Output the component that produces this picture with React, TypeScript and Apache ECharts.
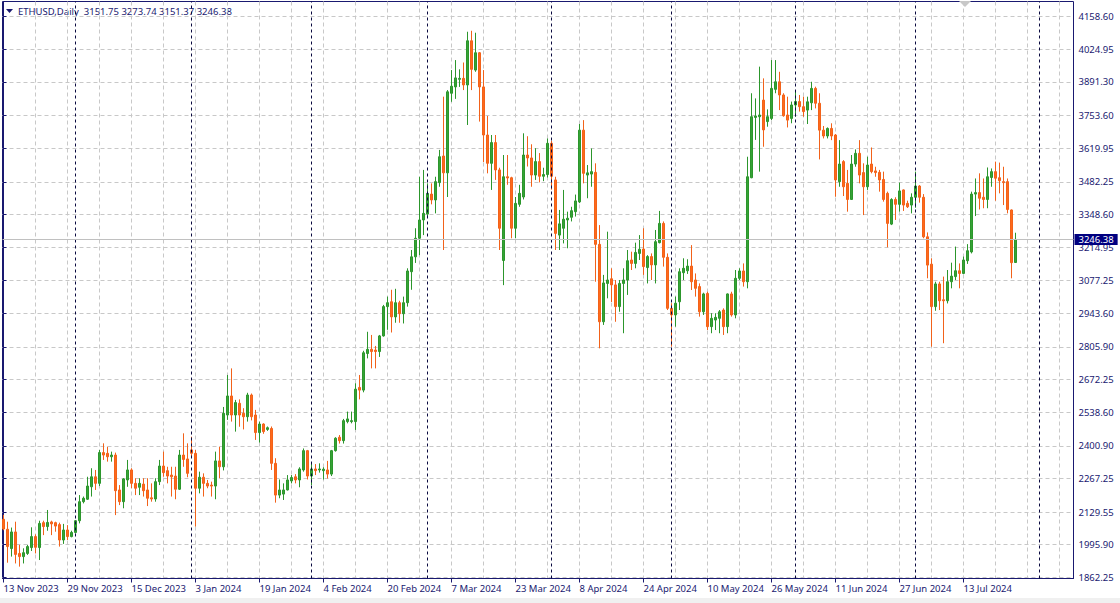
import React, { useEffect, useRef } from "react";
import * as echarts from "echarts";

// ---- data: daily bars [open, high, low, close] ----
const NOV_2023 = [
  [2100, 2118, 2055, 2060], [2059, 2090, 1922, 1988], [1980, 2066, 1947, 2048], [2048, 2090, 1919, 1956],
  [1960, 1995, 1906, 1947], [1947, 1981, 1919, 1963], [1960, 1995, 1954, 1988], [1984, 2067, 1970, 2029],
  [2029, 2038, 1960, 1985], [1984, 2094, 1933, 2083], [2086, 2094, 2035, 2070], [2070, 2138, 2053, 2087],
  [2089, 2094, 2035, 2081], [2086, 2090, 2049, 2072], [2078, 2086, 1988, 2015], [2015, 2081, 1999, 2056],
  [2056, 2076, 2015, 2029], [2029, 2053, 2026, 2046],
];
const DEC_2023 = [
  [2046, 2097, 2042, 2094], [2094, 2199, 2083, 2172], [2172, 2193, 2165, 2186], [2182, 2274, 2179, 2236],
  [2233, 2309, 2193, 2274], [2274, 2302, 2220, 2247], [2247, 2384, 2236, 2373], [2373, 2411, 2343, 2363],
  [2370, 2397, 2336, 2356], [2356, 2377, 2336, 2363], [2363, 2373, 2117, 2217], [2220, 2240, 2158, 2172],
  [2172, 2268, 2145, 2265], [2261, 2343, 2233, 2302], [2302, 2309, 2227, 2247], [2247, 2268, 2199, 2227],
  [2231, 2268, 2199, 2247], [2244, 2268, 2193, 2217], [2220, 2268, 2154, 2186], [2188, 2247, 2172, 2183],
  [2183, 2268, 2172, 2254], [2254, 2343, 2240, 2318], [2318, 2377, 2274, 2291], [2299, 2315, 2247, 2277],
  [2281, 2315, 2193, 2274], [2277, 2315, 2182, 2223], [2223, 2384, 2220, 2363], [2363, 2452, 2315, 2345],
  [2347, 2411, 2272, 2288],
];
const JAN_2024 = [
  [2384, 2438, 2356, 2370], [2370, 2384, 2070, 2227], [2227, 2295, 2206, 2272], [2272, 2288, 2193, 2247],
  [2247, 2261, 2227, 2236], [2240, 2254, 2193, 2236], [2236, 2377, 2182, 2339], [2339, 2397, 2268, 2315],
  [2315, 2560, 2300, 2534], [2527, 2691, 2507, 2605], [2605, 2718, 2500, 2527], [2527, 2589, 2459, 2578],
  [2575, 2591, 2479, 2527], [2534, 2555, 2468, 2520], [2520, 2618, 2500, 2609], [2609, 2615, 2505, 2520],
  [2527, 2548, 2425, 2455], [2455, 2500, 2414, 2490], [2490, 2493, 2450, 2459], [2468, 2480, 2462, 2475],
  [2472, 2480, 2302, 2329], [2329, 2350, 2168, 2199], [2199, 2263, 2186, 2220], [2203, 2247, 2179, 2220],
  [2220, 2281, 2218, 2261], [2257, 2281, 2247, 2271], [2274, 2285, 2247, 2261], [2261, 2313, 2231, 2306],
  [2302, 2390, 2295, 2381], [2381, 2384, 2263, 2277],
];
const FEB_2024 = [
  [2277, 2329, 2240, 2306], [2306, 2326, 2281, 2299], [2302, 2329, 2291, 2306], [2299, 2313, 2263, 2305],
  [2302, 2339, 2267, 2285], [2285, 2384, 2277, 2381], [2381, 2436, 2377, 2432], [2436, 2445, 2410, 2422],
  [2422, 2511, 2410, 2504], [2500, 2541, 2493, 2511], [2500, 2541, 2493, 2504], [2500, 2657, 2466, 2633],
  [2640, 2691, 2591, 2629], [2629, 2790, 2620, 2782], [2779, 2868, 2759, 2796], [2796, 2855, 2718, 2787],
  [2793, 2810, 2718, 2787], [2787, 2855, 2765, 2851], [2851, 2978, 2848, 2971], [2971, 3012, 2876, 2987],
  [2991, 3040, 2865, 2929], [2929, 3044, 2905, 2987], [2987, 2995, 2905, 2942], [2942, 3012, 2902, 2987],
  [2987, 3128, 2971, 3117], [3114, 3203, 3040, 3175], [3175, 3292, 3150, 3251], [3251, 3503, 3182, 3326],
  [3326, 3531, 3264, 3353],
];
const MAR_2024 = [
  [3350, 3476, 3340, 3435], [3432, 3476, 3390, 3408], [3408, 3503, 3353, 3483], [3479, 3613, 3462, 3585],
  [3588, 3831, 3203, 3519], [3519, 3858, 3420, 3851], [3845, 3940, 3810, 3874], [3871, 3981, 3822, 3908],
  [3902, 3943, 3871, 3906], [3906, 3971, 3858, 3879], [3879, 4097, 3715, 4060], [4060, 4101, 3858, 3943],
  [3940, 4093, 3933, 4011], [4011, 4014, 3729, 3871], [3871, 3940, 3563, 3674], [3674, 3752, 3517, 3558],
  [3558, 3674, 3449, 3643], [3643, 3674, 3490, 3531], [3531, 3540, 3203, 3292], [3160, 3592, 3059, 3503],
  [3503, 3592, 3470, 3498], [3499, 3503, 3251, 3292], [3292, 3420, 3251, 3394], [3390, 3470, 3380, 3435],
  [3420, 3681, 3410, 3592], [3592, 3669, 3545, 3580], [3580, 3636, 3462, 3510], [3510, 3620, 3490, 3565],
  [3565, 3600, 3480, 3505], [3505, 3540, 3485, 3512], [3512, 3660, 3500, 3640],
];
const APR_2024 = [
  [3640, 3650, 3450, 3505], [3490, 3503, 3203, 3271], [3264, 3367, 3203, 3310], [3292, 3449, 3230, 3329],
  [3326, 3360, 3210, 3333], [3337, 3380, 3320, 3364], [3360, 3430, 3340, 3404], [3400, 3719, 3395, 3694],
  [3694, 3735, 3476, 3517], [3510, 3551, 3415, 3519], [3514, 3619, 3462, 3524], [3521, 3558, 3073, 3226],
  [3226, 3305, 2800, 2909], [2909, 3101, 2896, 3068], [3066, 3278, 3005, 3080], [3085, 3128, 2990, 3060],
  [3060, 3080, 2909, 2971], [2971, 3080, 2950, 3066], [3066, 3128, 2862, 3080], [3080, 3203, 3019, 3159],
  [3162, 3196, 3121, 3148], [3148, 3233, 3128, 3193], [3189, 3264, 3162, 3206], [3207, 3292, 3101, 3135],
  [3131, 3182, 3066, 3176], [3176, 3189, 3080, 3142], [3142, 3285, 3066, 3237], [3233, 3363, 3230, 3312],
  [3312, 3320, 3135, 3173], [3173, 3189, 2957, 2964],
];
const MAY_2024 = [
  [2964, 2985, 2807, 2937], [2937, 3012, 2889, 2985], [2991, 3128, 2957, 3114], [3110, 3169, 3080, 3128],
  [3118, 3165, 3105, 3137], [3137, 3223, 3039, 3073], [3080, 3107, 3012, 3046], [3053, 3066, 2930, 2950],
  [2950, 3028, 2937, 3023], [3025, 3032, 2875, 2889], [2889, 2944, 2862, 2923], [2916, 2944, 2875, 2927],
  [2923, 2957, 2862, 2950], [2957, 2964, 2855, 2889], [2889, 3025, 2862, 3023], [3023, 3032, 2930, 2937],
  [2937, 3121, 2923, 3087], [3087, 3128, 3080, 3117], [3117, 3148, 3053, 3073], [3073, 3585, 3046, 3503],
  [3499, 3845, 3497, 3749], [3746, 3824, 3654, 3752], [3749, 3954, 3524, 3756], [3817, 3906, 3626, 3695],
  [3729, 3779, 3708, 3749], [3742, 3981, 3735, 3865], [3861, 3981, 3845, 3892], [3892, 3933, 3776, 3838],
  [3838, 3845, 3749, 3753], [3756, 3831, 3705, 3735], [3742, 3811, 3722, 3797],
];
const JUN_2024 = [
  [3797, 3852, 3749, 3811], [3811, 3838, 3770, 3790], [3790, 3831, 3749, 3770], [3776, 3831, 3719, 3810],
  [3806, 3892, 3776, 3865], [3865, 3872, 3783, 3804], [3804, 3845, 3574, 3694], [3694, 3711, 3660, 3670],
  [3670, 3705, 3660, 3701], [3701, 3722, 3653, 3670], [3674, 3678, 3421, 3490], [3483, 3653, 3462, 3555],
  [3565, 3571, 3424, 3462], [3476, 3531, 3360, 3410], [3410, 3592, 3408, 3555], [3555, 3615, 3544, 3599],
  [3599, 3653, 3476, 3510], [3520, 3558, 3346, 3462], [3462, 3585, 3449, 3551], [3555, 3623, 3517, 3524],
  [3527, 3544, 3503, 3520], [3521, 3531, 3442, 3490], [3492, 3524, 3401, 3410], [3435, 3442, 3214, 3312],
  [3309, 3415, 3305, 3410], [3410, 3419, 3326, 3390], [3390, 3479, 3360, 3445], [3449, 3451, 3363, 3387],
  [3394, 3405, 3375, 3380], [3387, 3435, 3353, 3419],
];
const JUL_2024 = [
  [3419, 3524, 3376, 3465], [3465, 3469, 3397, 3419], [3419, 3432, 3251, 3257], [3257, 3275, 3087, 3141],
  [3145, 3169, 2807, 2971], [2971, 3073, 2954, 3064], [3064, 3073, 2957, 2995], [2999, 3094, 2821, 2995],
  [2995, 3121, 2984, 3073], [3073, 3151, 3046, 3096], [3094, 3217, 3080, 3118], [3118, 3148, 3046, 3107],
  [3107, 3176, 3104, 3162], [3159, 3227, 3146, 3200], [3195, 3442, 3189, 3432], [3432, 3496, 3342, 3438],
  [3438, 3517, 3369, 3415], [3419, 3496, 3374, 3410], [3410, 3541, 3374, 3503], [3500, 3537, 3462, 3524],
  [3524, 3565, 3405, 3497], [3499, 3561, 3435, 3487], [3483, 3544, 3387, 3479], [3483, 3496, 3353, 3369],
  [3367, 3369, 3087, 3151], [3151.75, 3273.74, 3151.37, 3246.38],
];

const BARS = [
  ...NOV_2023, ...DEC_2023, ...JAN_2024, ...FEB_2024, ...MAR_2024,
  ...APR_2024, ...MAY_2024, ...JUN_2024, ...JUL_2024,
];

const SYMBOL_TITLE = "ETHUSD,Daily";
const LAST_PRICE = 3246.38;

// time-scale labels (bar index -> label)
const X_TICK_BARS = [0, 16, 32, 48, 64, 80, 96, 112, 128, 144, 160, 176, 192, 208, 224, 240];
const X_TICK_LABELS = [
  "13 Nov 2023", "29 Nov 2023", "15 Dec 2023", "3 Jan 2024", "19 Jan 2024", "4 Feb 2024",
  "20 Feb 2024", "7 Mar 2024", "23 Mar 2024", "8 Apr 2024", "24 Apr 2024", "10 May 2024",
  "26 May 2024", "11 Jun 2024", "27 Jun 2024", "13 Jul 2024",
];
const X_GRID_BARS = [
  8, 16, 24, 32, 40, 48, 56, 64, 72, 80, 88, 96, 104, 112, 120, 128, 136, 144, 152, 160,
  168, 176, 184, 192, 200, 208, 216, 224, 232, 240, 248, 256, 264,
];
// first bar of each month (period separators), incl. 1 Aug 2024 in the shifted area
const MONTH_START_BARS = [18, 47, 77, 106, 137, 167, 198, 228, 259];

const Y_TICKS = [
  1862.25, 1995.9, 2129.55, 2267.25, 2400.9, 2538.6, 2672.25, 2805.9, 2943.6,
  3077.25, 3214.95, 3348.6, 3482.25, 3619.95, 3753.6, 3891.3, 4024.95, 4158.6,
];

const NAVY = "#191970";
const GRID_GRAY = "#c8c8c8";
const FONT = "Noto Sans";

export default function App() {
  const ref = useRef<HTMLDivElement>(null);

  useEffect(() => {
    if (!ref.current) return;
    document.body.style.margin = "0";
    const chart = echarts.init(ref.current, undefined, { renderer: "svg" });

    const candleData = BARS.map((b, i) => [i, b[0], b[3], b[2], b[1]]);
    const last = BARS[BARS.length - 1];
    const header =
      SYMBOL_TITLE + "  " + last.map((v) => v.toFixed(2)).join(" ");

    const option: any = {
      animation: false,
      backgroundColor: "#ffffff",
      grid: {
        left: 2.5,
        top: 1.5,
        width: 1071,
        height: 577,
        show: true,
        borderColor: NAVY,
        borderWidth: 1,
        backgroundColor: "#ffffff",
      },
      xAxis: [
        {
          type: "value",
          min: -0.25,
          max: 267.5,
          position: "bottom",
          axisLine: { show: true, lineStyle: { color: NAVY, width: 1 } },
          axisTick: {
            show: true,
            customValues: X_TICK_BARS,
            length: 4,
            lineStyle: { color: NAVY },
          },
          axisLabel: {
            show: true,
            customValues: X_TICK_BARS,
            formatter: (v: number) => {
              const k = X_TICK_BARS.indexOf(Math.round(v));
              return k >= 0 ? X_TICK_LABELS[k] : "";
            },
            align: "left",
            margin: 5,
            color: NAVY,
            fontSize: 9.5,
            fontFamily: FONT,
          },
          splitLine: { show: false },
        },
        {
          type: "value",
          min: -0.25,
          max: 267.5,
          position: "top",
          axisLine: { show: false },
          axisTick: { show: false, customValues: X_GRID_BARS },
          axisLabel: { show: false, customValues: X_GRID_BARS },
          splitLine: {
            show: true,
            lineStyle: { color: GRID_GRAY, type: [4, 3], width: 1 },
          },
        },
      ],
      yAxis: {
        type: "value",
        position: "right",
        min: 1857.3,
        max: 4220.9,
        axisLine: { show: true, lineStyle: { color: NAVY, width: 1 } },
        axisTick: {
          show: true,
          customValues: Y_TICKS,
          length: 3,
          lineStyle: { color: NAVY },
        },
        axisLabel: {
          show: true,
          customValues: Y_TICKS,
          formatter: (v: number) => v.toFixed(2),
          margin: 5,
          color: NAVY,
          fontSize: 9.5,
          fontFamily: FONT,
        },
        splitLine: {
          show: true,
          lineStyle: { color: GRID_GRAY, type: [4, 3], width: 1 },
        },
      },
      graphic: [
        {
          type: "polygon",
          shape: { points: [[6, 9], [13, 9], [9.5, 13]] },
          style: { fill: NAVY },
        },
        {
          type: "text",
          x: 18,
          y: 11,
          style: {
            text: header,
            fill: NAVY,
            font: `9.5px "${FONT}"`,
            align: "left",
            verticalAlign: "middle",
          },
        },
        {
          type: "polygon",
          shape: { points: [[959, 1], [971, 1], [965, 7]] },
          style: { fill: "#c8c8c8" },
        },
        {
          type: "rect",
          shape: { x: 0, y: 598, width: 1120, height: 5 },
          style: { fill: "#f0f0f0" },
        },
      ],
      series: [
        {
          type: "candlestick",
          xAxisIndex: 0,
          yAxisIndex: 0,
          barWidth: 3,
          data: candleData,
          itemStyle: {
            color: "#36a336",
            color0: "#ff6a1a",
            borderColor: "#2c962c",
            borderColor0: "#f2621a",
            borderWidth: 1,
          },
          markLine: {
            silent: true,
            animation: false,
            symbol: ["none", "none"],
            label: { show: false },
            data: [
              ...MONTH_START_BARS.map((b) => ({
                xAxis: b,
                lineStyle: { color: "#0a0a40", type: [3, 3], width: 1 },
              })),
              {
                yAxis: LAST_PRICE,
                lineStyle: { color: "#c0c0c0", type: "solid", width: 1 },
                label: {
                  show: true,
                  position: "end",
                  distance: 1,
                  formatter: () => LAST_PRICE.toFixed(2),
                  color: "#ffffff",
                  backgroundColor: "#000080",
                  padding: [1, 4, 0, 4],
                  fontSize: 9.5,
                  fontFamily: FONT,
                },
              },
            ],
          },
        },
      ],
    };

    chart.setOption(option);
    return () => chart.dispose();
  }, []);

  return (
    <div
      ref={ref}
      style={{ position: "absolute", left: 0, top: 0, width: 1120, height: 603, background: "#fff" }}
    />
  );
}
